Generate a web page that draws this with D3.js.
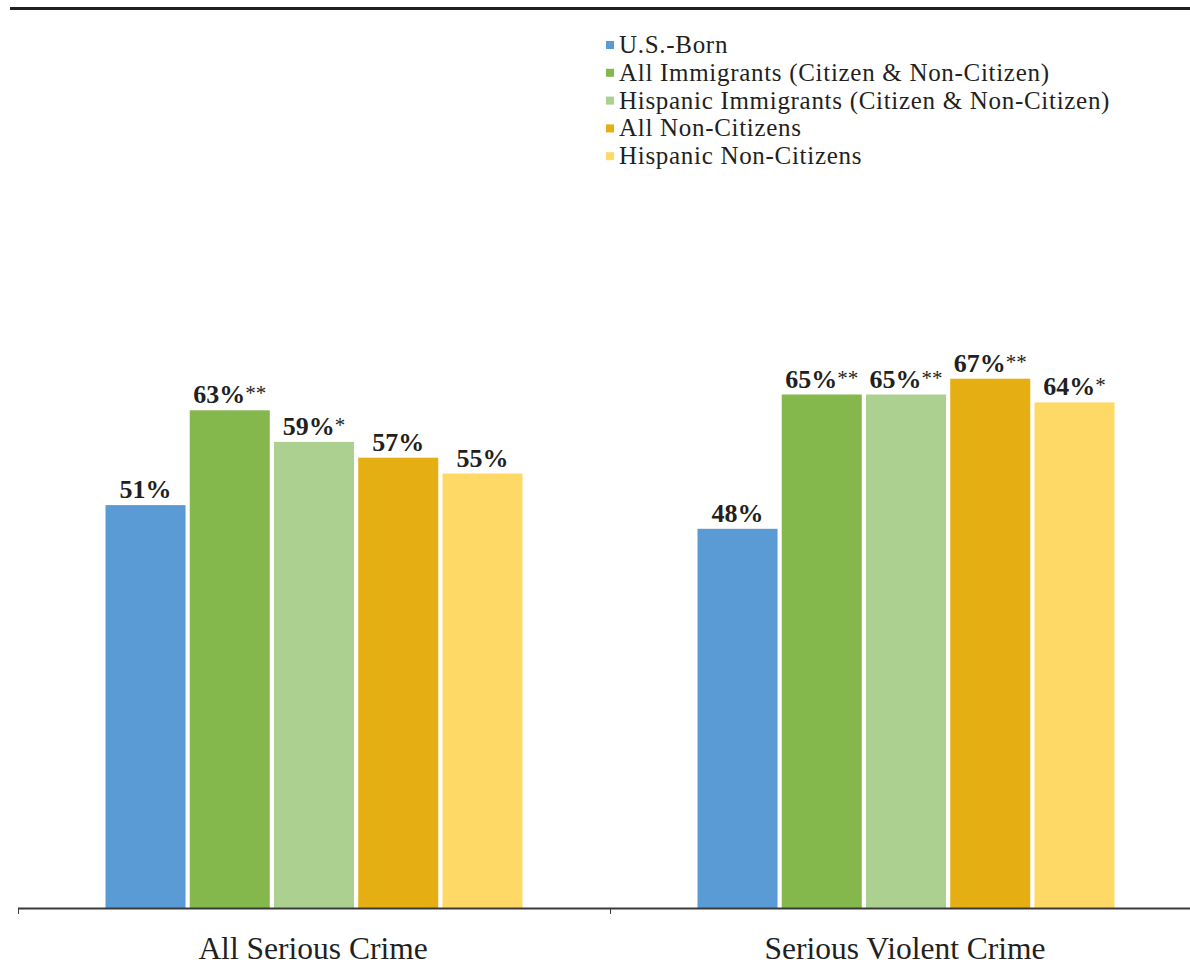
<!DOCTYPE html>
<html>
<head>
<meta charset="utf-8">
<script src="https://cdn.jsdelivr.net/npm/d3@7"></script>
<style>
  html, body { margin: 0; padding: 0; background: #fff; }
  svg { display: block; }
</style>
</head>
<body>
<svg id="chart" width="1190" height="979"></svg>
<script>
// Crime categories on the x axis
const categories = ["All Serious Crime", "Serious Violent Crime"];

// Population groups (one bar per group within each category)
const seriesNames = [
  "U.S.-Born",
  "All Immigrants (Citizen & Non-Citizen)",
  "Hispanic Immigrants (Citizen & Non-Citizen)",
  "All Non-Citizens",
  "Hispanic Non-Citizens"
];
const seriesColors = ["#5B9BD5", "#84B74C", "#ABD08F", "#E5AE12", "#FED966"];

// Percentages, one array per category, in series order
const allSeriousCrime = [51, 63, 59, 57, 55];
const seriousViolentCrime = [48, 65, 65, 67, 64];

// Significance markers attached to each value label
const allSeriousStars = ["", "**", "*", "", ""];
const seriousViolentStars = ["", "**", "**", "**", "*"];

const values = [allSeriousCrime, seriousViolentCrime];
const stars = [allSeriousStars, seriousViolentStars];

const svg = d3.select("#chart");
const ink = "#231F20";
const serif = "'Liberation Serif', 'DejaVu Serif', serif";

const baseY = 908;
const groupW = 417;
const x0 = d3.scaleBand().domain(categories).range([18, 1202]);
const x1 = d3.scaleBand().domain(seriesNames).range([0, groupW]).paddingInner(0.05);
const y = d3.scaleLinear().domain([0, 100]).range([baseY, 118]);

// Top rule
svg.append("line")
  .attr("x1", 10).attr("x2", 1190).attr("y1", 8.5).attr("y2", 8.5)
  .attr("stroke", "#231F20").attr("stroke-width", 3);

// Bars and labels
const groups = svg.selectAll("g.cat")
  .data(categories)
  .join("g")
  .attr("class", "cat")
  .attr("transform", c => `translate(${x0(c) + (x0.bandwidth() - groupW) / 2},0)`);

groups.each(function (c, ci) {
  const g = d3.select(this);
  const rows = seriesNames.map((s, si) => ({ s, si, v: values[ci][si], star: stars[ci][si] }));

  g.selectAll("rect")
    .data(rows)
    .join("rect")
    .attr("x", d => x1(d.s))
    .attr("y", d => y(d.v))
    .attr("width", x1.bandwidth())
    .attr("height", d => baseY - y(d.v))
    .attr("fill", d => seriesColors[d.si]);

  const t = g.selectAll("text.val")
    .data(rows)
    .join("text")
    .attr("class", "val")
    .attr("x", d => x1(d.s) + x1.bandwidth() / 2)
    .attr("y", d => y(d.v) - 7)
    .attr("text-anchor", "middle")
    .attr("font-family", serif)
    .attr("font-weight", "bold")
    .attr("font-size", 26)
    .attr("fill", ink);
  t.append("tspan").text(d => d.v + "%");
  t.filter(d => d.star).append("tspan")
    .attr("font-size", 21)
    .attr("font-weight", "normal")
    .attr("dy", -3)
    .text(d => d.star);
});

// X axis baseline with category ticks
svg.append("line")
  .attr("x1", 18).attr("x2", 1190).attr("y1", baseY + 0.5).attr("y2", baseY + 0.5)
  .attr("stroke", "#3a3a3a").attr("stroke-width", 2);
[x0.range()[0], x0(categories[1])].forEach(px => {
  svg.append("line")
    .attr("x1", px + 0.5).attr("x2", px + 0.5)
    .attr("y1", baseY).attr("y2", baseY + 6)
    .attr("stroke", "#3a3a3a").attr("stroke-width", 1);
});

// Category labels
svg.selectAll("text.cat")
  .data(categories)
  .join("text")
  .attr("class", "cat")
  .attr("x", c => x0(c) + x0.bandwidth() / 2 - 1)
  .attr("y", 959)
  .attr("text-anchor", "middle")
  .attr("font-family", serif)
  .attr("font-size", 31.5)
  .attr("fill", ink)
  .text(c => c);

// Legend
const legend = svg.append("g").attr("transform", "translate(606,45)");
const item = legend.selectAll("g")
  .data(seriesNames)
  .join("g")
  .attr("transform", (d, i) => `translate(0,${i * 27.8})`);
item.append("rect")
  .attr("x", 0).attr("y", -4).attr("width", 8).attr("height", 8)
  .attr("fill", (d, i) => seriesColors[i]);
item.append("text")
  .attr("x", 13).attr("y", 8)
  .attr("font-family", serif)
  .attr("font-size", 25)
  .attr("letter-spacing", 0.7)
  .attr("fill", ink)
  .text(d => d);
</script>
</body>
</html>
